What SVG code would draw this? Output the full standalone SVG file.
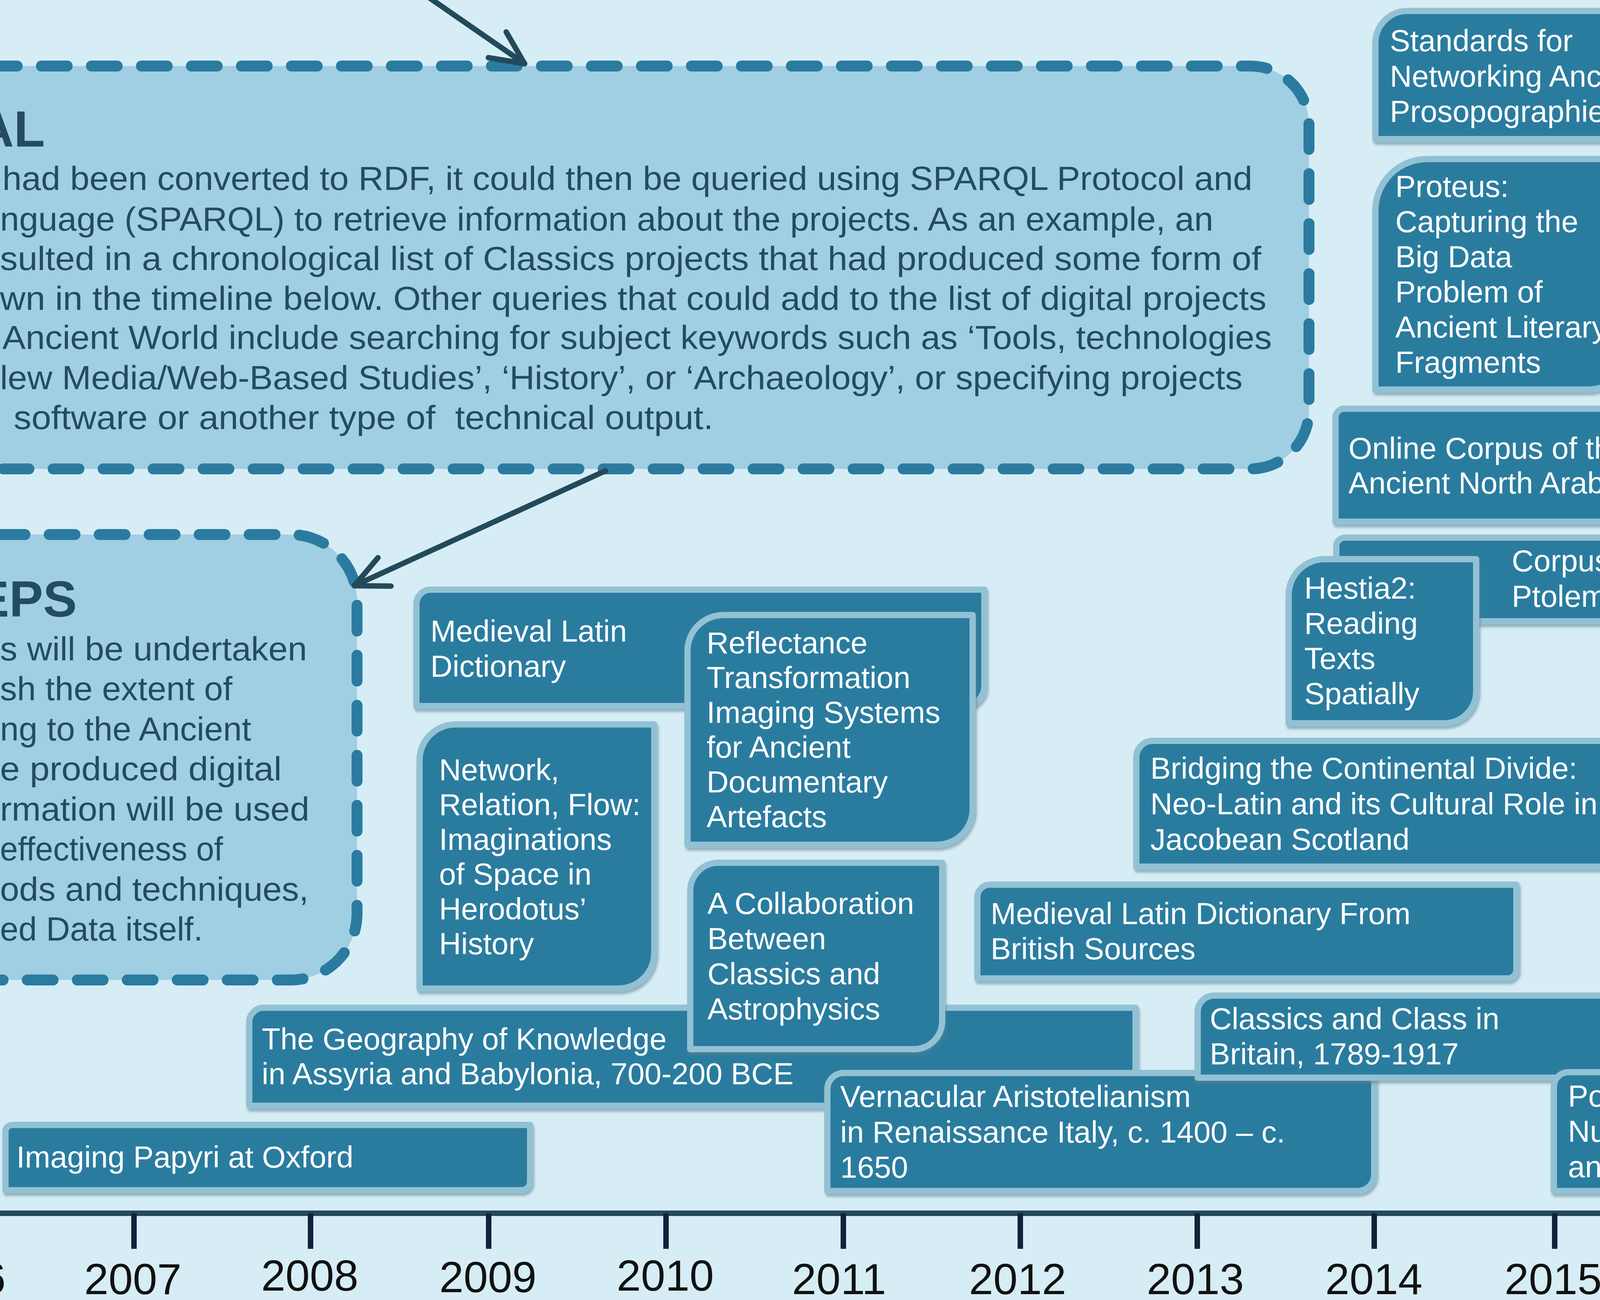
<svg xmlns="http://www.w3.org/2000/svg" width="5438" height="3327" viewBox="0 0 5438 3327">
<style>
.node path{fill:#2c7b9f;stroke:#93c1d4;stroke-width:16;stroke-linejoin:round;filter:url(#sh)}
.node text{font-family:"Liberation Sans",Arial,sans-serif;font-size:78px;fill:#ffffff}
.dbox rect{fill:#a0cee3;stroke:#2b7ba0;stroke-width:28;stroke-dasharray:66 62;stroke-linecap:round}
.dbox text{font-family:"Liberation Sans",Arial,sans-serif;font-size:86px;fill:#244b5e}
.dbox text.h{font-weight:bold;font-size:130px}
.title text{font-family:"Liberation Sans",Arial,sans-serif;font-weight:bold;font-size:116px;fill:#2b7ba0}
.year{font-family:"Liberation Sans",Arial,sans-serif;font-size:112px;fill:#111111;text-anchor:middle}
.tick{stroke:#10233a;stroke-width:14}
.conn{stroke:#234a5a;stroke-width:14;fill:none;stroke-linecap:round;marker-end:url(#vhead)}
</style>
<defs>
<filter id="sh" x="-5%" y="-5%" width="110%" height="120%">
<feDropShadow dx="3" dy="7" stdDeviation="3" flood-color="#5b7f8e" flood-opacity="0.55"/>
</filter>
<marker id="vhead" markerUnits="userSpaceOnUse" markerWidth="200" markerHeight="200" refX="0" refY="0" orient="auto" overflow="visible">
<path d="M-85,-40 L0,0 L-85,40" fill="none" stroke="#234a5a" stroke-width="14" stroke-linecap="round" stroke-linejoin="round"/>
</marker>
</defs>
<rect x="0" y="0" width="5438" height="3327" fill="#d6edf5"/>

<g id="box-proposal" class="dbox">
<rect x="-300" y="169" width="3651" height="1031" rx="150" ry="150"/>
<text class="h" x="115" y="375" text-anchor="end">AL</text>
<text x="6" y="486" textLength="3200" lengthAdjust="spacingAndGlyphs">had been converted to RDF, it could then be queried using SPARQL Protocol and</text>
<text x="0" y="590" textLength="3106" lengthAdjust="spacingAndGlyphs">nguage (SPARQL) to retrieve information about the projects. As an example, an</text>
<text x="0" y="691" textLength="3229" lengthAdjust="spacingAndGlyphs">sulted in a chronological list of Classics projects that had produced some form of</text>
<text x="0" y="793" textLength="3242" lengthAdjust="spacingAndGlyphs">wn in the timeline below. Other queries that could add to the list of digital projects</text>
<text x="6" y="893" textLength="3250" lengthAdjust="spacingAndGlyphs">Ancient World include searching for subject keywords such as ‘Tools, technologies</text>
<text x="0" y="996" textLength="3181" lengthAdjust="spacingAndGlyphs">lew Media/Web-Based Studies’, ‘History’, or ‘Archaeology’, or specifying projects</text>
<text x="35" y="1098" xml:space="preserve" textLength="1791" lengthAdjust="spacingAndGlyphs">software or another type of  technical output.</text>
</g>

<g id="box-steps" class="dbox">
<rect x="-300" y="1368" width="1214" height="1140" rx="170" ry="170"/>
<text class="h" x="197" y="1578" text-anchor="end">EPS</text>
<text x="0" y="1690" textLength="786" lengthAdjust="spacingAndGlyphs">s will be undertaken</text>
<text x="0" y="1792" textLength="595" lengthAdjust="spacingAndGlyphs">sh the extent of</text>
<text x="0" y="1895" textLength="643" lengthAdjust="spacingAndGlyphs">ng to the Ancient</text>
<text x="0" y="1997" textLength="721" lengthAdjust="spacingAndGlyphs">e produced digital</text>
<text x="0" y="2100" textLength="792" lengthAdjust="spacingAndGlyphs">rmation will be used</text>
<text x="0" y="2202" textLength="571" lengthAdjust="spacingAndGlyphs">effectiveness of</text>
<text x="0" y="2305" textLength="790" lengthAdjust="spacingAndGlyphs">ods and techniques,</text>
<text x="0" y="2407" textLength="519" lengthAdjust="spacingAndGlyphs">ed Data itself.</text>
</g>

<g id="connectors">
<path class="conn" d="M1090,-12 L1343,163"/>
<path class="conn" d="M1550,1205 L907,1499"/>
</g>

<g id="title" class="title">
<text x="4398" y="156">A TIMELINE OF</text>
<text x="4398" y="297">CLASSICS</text>
<text x="4398" y="437">PROJECTS THAT</text>
<text x="4398" y="576">HAVE PRODUCED</text>
<text x="4398" y="717">DIGITAL DATA</text>
</g>

<g id="timeline">
<rect x="0" y="3098" width="5410" height="14" fill="#234a5a"/>
<line class="tick" x1="343" y1="3105" x2="343" y2="3196"/>
<line class="tick" x1="795" y1="3105" x2="795" y2="3196"/>
<line class="tick" x1="1251" y1="3105" x2="1251" y2="3196"/>
<line class="tick" x1="1705" y1="3105" x2="1705" y2="3196"/>
<line class="tick" x1="2159" y1="3105" x2="2159" y2="3196"/>
<line class="tick" x1="2612" y1="3105" x2="2612" y2="3196"/>
<line class="tick" x1="3065" y1="3105" x2="3065" y2="3196"/>
<line class="tick" x1="3518" y1="3105" x2="3518" y2="3196"/>
<line class="tick" x1="3980" y1="3105" x2="3980" y2="3196"/>
<line class="tick" x1="4427" y1="3105" x2="4427" y2="3196"/>
<line class="tick" x1="4881" y1="3105" x2="4881" y2="3196"/>
<text class="year" x="-110" y="3310">2006</text>
<text class="year" x="340" y="3312">2007</text>
<text class="year" x="793" y="3303">2008</text>
<text class="year" x="1249" y="3307">2009</text>
<text class="year" x="1703" y="3303">2010</text>
<text class="year" x="2148" y="3312">2011</text>
<text class="year" x="2605" y="3312">2012</text>
<text class="year" x="3060" y="3312">2013</text>
<text class="year" x="3517" y="3312">2014</text>
<text class="year" x="3976" y="3312">2015</text>
<text class="year" x="4425" y="3307">2016</text>
<text class="year" x="4876" y="3312">2017</text>
</g>

<g id="n-imaging-papyri" class="node">
<path d="M14,2896 A17,17 0 0 1 31,2879 H1357 V3024 A22,22 0 0 1 1335,3046 H14 Z"/>
<text x="42" y="2988">Imaging Papyri at Oxford</text>
</g>
<g id="n-geography" class="node">
<path d="M638,2616 A37,37 0 0 1 675,2579 H2907 V2818 A12,12 0 0 1 2895,2830 H638 Z"/>
<text x="670" y="2686">The Geography of Knowledge</text>
<text x="670" y="2775">in Assyria and Babylonia, 700-200 BCE</text>
</g>
<g id="n-collaboration" class="node">
<path d="M1767,2280 A72,72 0 0 1 1839,2208 H2412 V2613 A72,72 0 0 1 2340,2685 H1767 Z"/>
<text x="1811" y="2339">A Collaboration</text>
<text x="1811" y="2429">Between</text>
<text x="1811" y="2519">Classics and</text>
<text x="1811" y="2609">Astrophysics</text>
</g>
<g id="n-vernacular" class="node">
<path d="M2118,2788 A42,42 0 0 1 2160,2746 H3518 V3006 A42,42 0 0 1 3476,3048 H2118 Z"/>
<text x="2151" y="2833">Vernacular Aristotelianism</text>
<text x="2151" y="2924">in Renaissance Italy, c. 1400 – c.</text>
<text x="2151" y="3014">1650</text>
</g>
<g id="n-classics-class" class="node">
<path d="M3066,2590 A42,42 0 0 1 3108,2548 H4656 V2746 A12,12 0 0 1 4644,2758 H3066 Z"/>
<text x="3097" y="2634">Classics and Class in</text>
<text x="3097" y="2724">Britain, 1789-1917</text>
</g>
<g id="n-poetry" class="node">
<path d="M3978,2781 A37,37 0 0 1 4015,2744 H4719 V3001 A47,47 0 0 1 4672,3048 H3978 Z"/>
<text x="4014" y="2832">Poetry by</text>
<text x="4014" y="2922">Numbers, Then</text>
<text x="4014" y="3013">and Now</text>
</g>
<g id="n-mld" class="node">
<path d="M1066,1546 A37,37 0 0 1 1103,1509 H2520 V1755 A52,52 0 0 1 2468,1807 H1066 Z"/>
<text x="1102" y="1642">Medieval Latin</text>
<text x="1102" y="1732">Dictionary</text>
</g>
<g id="n-network" class="node">
<path d="M1074,1946 A92,92 0 0 1 1166,1854 H1675 V2438 A92,92 0 0 1 1583,2530 H1074 Z"/>
<text x="1124" y="1997">Network,</text>
<text x="1124" y="2086">Relation, Flow:</text>
<text x="1124" y="2175">Imaginations</text>
<text x="1124" y="2264">of Space in</text>
<text x="1124" y="2353">Herodotus’</text>
<text x="1124" y="2442">History</text>
</g>
<g id="n-reflectance" class="node">
<path d="M1760,1666 A92,92 0 0 1 1852,1574 H2490 V2070 A92,92 0 0 1 2398,2162 H1760 Z"/>
<text x="1809" y="1672">Reflectance</text>
<text x="1809" y="1761">Transformation</text>
<text x="1809" y="1850">Imaging Systems</text>
<text x="1809" y="1939">for Ancient</text>
<text x="1809" y="2028">Documentary</text>
<text x="1809" y="2117">Artefacts</text>
</g>
<g id="n-mld-british" class="node">
<path d="M2502,2296 A32,32 0 0 1 2534,2264 H3882 V2482 A22,22 0 0 1 3860,2504 H2502 Z"/>
<text x="2536" y="2365">Medieval Latin Dictionary From</text>
<text x="2536" y="2455">British Sources</text>
</g>
<g id="n-bridging" class="node">
<path d="M2909,1938 A42,42 0 0 1 2951,1896 H4268 V2171 A47,47 0 0 1 4221,2218 H2909 Z"/>
<text x="2945" y="1993">Bridging the Continental Divide:</text>
<text x="2945" y="2084">Neo-Latin and its Cultural Role in</text>
<text x="2945" y="2175">Jacobean Scotland</text>
</g>
<g id="n-ptolemaic" class="node">
<path d="M3421,1398 A22,22 0 0 1 3443,1376 H4778 V1568 A22,22 0 0 1 4756,1590 H3421 Z"/>
<text x="3870" y="1462">Corpus of Inscriptions of</text>
<text x="3870" y="1553">Ptolemaic Egypt</text>
</g>
<g id="n-hestia2" class="node">
<path d="M3299,1523 A92,92 0 0 1 3391,1431 H3779 V1769 A82,82 0 0 1 3697,1851 H3299 Z"/>
<text x="3339" y="1532">Hestia2:</text>
<text x="3339" y="1622">Reading</text>
<text x="3339" y="1712">Texts</text>
<text x="3339" y="1802">Spatially</text>
</g>
<g id="n-online-corpus" class="node">
<path d="M3419,1068 A22,22 0 0 1 3441,1046 H4958 V1298 A37,37 0 0 1 4921,1335 H3419 Z"/>
<text x="3452" y="1174">Online Corpus of the Inscriptions of</text>
<text x="3452" y="1263">Ancient North Arabia</text>
</g>
<g id="n-proteus" class="node">
<path d="M3521,539 A132,132 0 0 1 3653,407 H4186 V875 A122,122 0 0 1 4064,997 H3521 Z"/>
<text x="3572" y="504">Proteus:</text>
<text x="3572" y="594">Capturing the</text>
<text x="3572" y="684">Big Data</text>
<text x="3572" y="774">Problem of</text>
<text x="3572" y="864">Ancient Literary</text>
<text x="3572" y="954">Fragments</text>
</g>
<g id="n-standards" class="node">
<path d="M3521,110 A82,82 0 0 1 3603,28 H4310 V284 A72,72 0 0 1 4238,356 H3521 Z"/>
<text x="3558" y="131">Standards for</text>
<text x="3558" y="222">Networking Ancient</text>
<text x="3558" y="312">Prosopographies</text>
</g>
</svg>
